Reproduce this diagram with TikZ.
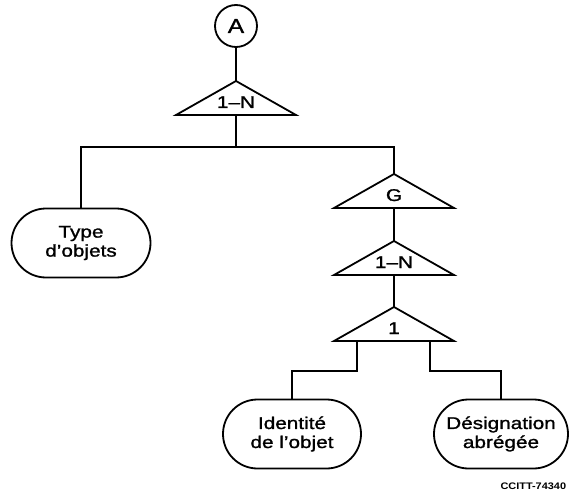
\documentclass[tikz,border=0pt]{standalone}
\usepackage{fontspec}
\setmainfont{Liberation Sans}[FakeStretch=1.22, FakeBold=1.3]
\newfontfamily\refsfont{Liberation Sans}[FakeStretch=1.15]
\usetikzlibrary{shapes.misc}

\tikzset{
  % triangular structure symbol with its label; anchors -apex and -base
  pics/gate/.style={code={
    \draw[line join=miter] (0,0) coordinate (-apex) -- (-60,34) -- (60,34) -- cycle;
    \coordinate (-base) at (0,34);
    \node[lbl] (-label) at (0,27) {#1};
  }},
}

\begin{document}
\begin{tikzpicture}[x=1pt, y=-1pt, line width=1.8pt,
  txt/.style={font=\fontsize{17}{19}\selectfont},
  lbl/.style={txt, inner sep=0pt, anchor=base},
  entity/.style={txt, draw, rounded rectangle, minimum height=69pt,
                 align=center, inner sep=0pt},
  wire/.style={line width=1.8pt}]
\useasboundingbox (0,0) rectangle (570,497);

% entry point
\node[draw, circle, minimum size=42pt, inner sep=0pt,
      font=\fontsize{20}{22}\selectfont] (A) at (236,26) {A};

% structure symbols
\pic (top) at (236,81) {gate={1–N}};
\pic (g) at (394,174) {gate={G}};
\pic (n) at (394,241) {gate={1–N}};
\pic (one) at (394,307) {gate={1}};

% leaf entities
\node[entity, minimum width=139pt] (type) at (81,243) {Type\\d’objets};
\node[entity, minimum width=138pt] (ident) at (292,434) {Identité\\de l’objet};
\node[entity, minimum width=134pt] (desig) at (501,434) {Désignation\\abrégée};

% junctions
\coordinate (j1) at (236,147);
\coordinate (legL) at (357,341);
\coordinate (legR) at (430,341);

% connectors
\draw[wire] (A) -- (top-apex);
\draw[wire] (top-base) -- (j1);
\draw[wire] (j1) -| (type.north);
\draw[wire] (j1) -| (g-apex);
\draw[wire] (g-base) -- (n-apex);
\draw[wire] (n-base) -- (one-apex);
\draw[wire] (legL) -- ++(0,30) -| (ident.north);
\draw[wire] (legR) -- ++(0,30) -| (desig.north);

% drawing reference
\node[anchor=base east, inner sep=0pt, font=\refsfont\bfseries\fontsize{9.5}{11}\selectfont]
  (ref) at (567,489) {CCITT-74340};
\end{tikzpicture}
\end{document}
